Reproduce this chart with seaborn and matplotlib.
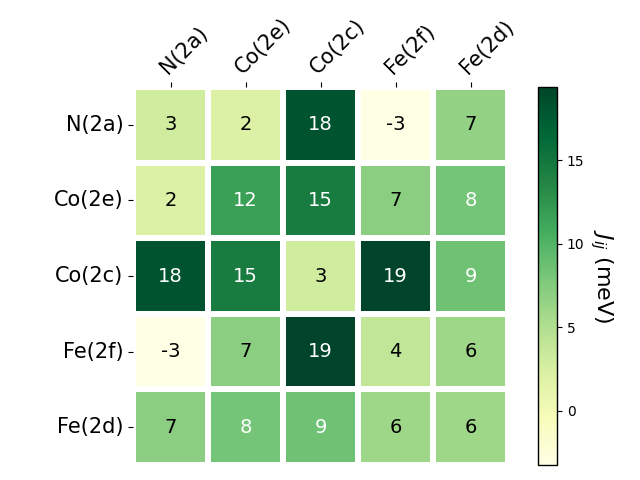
import numpy as np
import pandas as pd
import matplotlib
matplotlib.use("Agg")
import matplotlib.pyplot as plt
import seaborn as sns

sites = ["N(2a)", "Co(2e)", "Co(2c)", "Fe(2f)", "Fe(2d)"]
row_n2a = [3.0, 2.2, 18.2, -3.25, 6.6]
row_co2e = [2.2, 11.7, 14.6, 7.1, 8.2]
row_co2c = [18.2, 14.6, 3.0, 19.4, 8.6]
row_fe2f = [-3.25, 7.1, 19.4, 4.0, 6.0]
row_fe2d = [7.1, 8.2, 8.6, 6.0, 6.0]

data = np.array([row_n2a, row_co2e, row_co2c, row_fe2f, row_fe2d])
df = pd.DataFrame(data, index=sites, columns=sites)

fig = plt.figure(figsize=(6.4, 4.8), dpi=100)
ax = fig.add_axes([133/640, 15/480, 375/640, 378/480])
cax = fig.add_axes([538/640, 15/480, 19/640, 378/480])

sns.heatmap(df, ax=ax, cbar_ax=cax, cmap="YlGn", annot=True, fmt=".0f",
            annot_kws={"fontsize": 14}, linewidths=3, linecolor="white")

# text colour: white on the darker half of the colour scale
mesh = ax.collections[0]
norm = mesh.norm
for t in ax.texts:
    x, y = t.get_position()
    j, i = int(x), int(y)
    t.set_color("white" if norm(data[i, j]) > 0.5 else "black")

ax.xaxis.tick_top()
ax.set_xticklabels(sites, rotation=45, ha="left", va="bottom",
                   rotation_mode="anchor", fontsize=15)
ax.set_yticklabels(sites, rotation=0, fontsize=15)
ax.set_xlabel("")
ax.set_ylabel("")

cbar = mesh.colorbar
cbar.ax.tick_params(labelsize=10)
cbar.outline.set_visible(True)
cbar.outline.set_edgecolor("black")
cbar.outline.set_linewidth(1)
cbar.set_label("$J_{ij}$ (meV)", rotation=270, fontsize=16, labelpad=22)

fig.savefig("out.png", dpi=100)
